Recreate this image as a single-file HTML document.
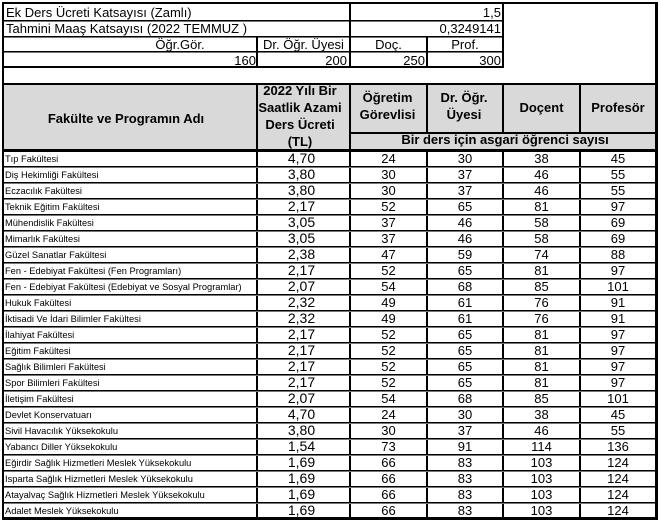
<!DOCTYPE html>
<html><head><meta charset="utf-8">
<style>
*{margin:0;padding:0;box-sizing:border-box}
html,body{width:661px;height:526px;background:#fff;overflow:hidden}
body{position:relative;font-family:"Liberation Sans",Arial,sans-serif;color:#000}
.a{position:absolute;white-space:nowrap;line-height:1;font-size:13px}
.b{font-weight:bold;line-height:17px;text-align:center;white-space:nowrap;position:absolute;font-size:13px}
.l{position:absolute;background:#000}
.h{position:absolute;left:4px;width:651px;height:2px;background:linear-gradient(#000 50%,#777 50%)}
.r{position:absolute;left:0;width:661px;height:16px}
.n{position:absolute;left:5px;top:5px;font-size:9.3px;line-height:1;white-space:nowrap}
.v{position:absolute;left:258px;width:87px;text-align:center;top:1px;font-size:14px;line-height:1}
.c{position:absolute;top:2px;font-size:13px;line-height:1;text-align:center}
.c1{left:351px;width:75px}.c2{left:428px;width:74px}.c3{left:504px;width:75px}.c4{left:581px;width:74px}
</style></head><body>

<!-- header gray -->
<div style="position:absolute;left:4px;top:85px;width:651px;height:64px;background:#d9d9d9"></div>

<!-- outer border -->
<div class="l" style="left:2px;top:2px;width:656px;height:2px"></div>
<div class="l" style="left:2px;top:2px;width:2px;height:517px"></div>
<div class="l" style="left:655px;top:2px;width:3px;height:517px"></div>
<div class="l" style="left:2px;top:517px;width:656px;height:3px"></div>

<!-- top section lines -->
<div class="h" style="top:20px;width:500px"></div>
<div class="h" style="top:36px;width:500px"></div>
<div class="h" style="top:51px;width:500px"></div>
<div class="l" style="left:4px;top:66px;width:500px;height:2px"></div>
<div class="l" style="left:349px;top:2px;width:2px;height:65px"></div>
<div class="l" style="left:502px;top:2px;width:2px;height:65px"></div>
<div class="l" style="left:256px;top:36px;width:2px;height:31px"></div>
<div class="l" style="left:426px;top:36px;width:2px;height:31px"></div>

<!-- header lines -->
<div class="l" style="left:4px;top:83px;width:651px;height:2px"></div>
<div class="l" style="left:349px;top:132px;width:306px;height:2px"></div>
<div class="l" style="left:4px;top:149px;width:651px;height:3px"></div>

<!-- verticals -->
<div class="l" style="left:256px;top:83px;width:2px;height:435px"></div>
<div class="l" style="left:349px;top:83px;width:2px;height:435px"></div>
<div class="l" style="left:426px;top:83px;width:2px;height:50px"></div>
<div class="l" style="left:502px;top:83px;width:2px;height:50px"></div>
<div class="l" style="left:579px;top:83px;width:2px;height:50px"></div>
<div class="l" style="left:426px;top:149px;width:2px;height:369px"></div>
<div class="l" style="left:502px;top:149px;width:2px;height:369px"></div>
<div class="l" style="left:579px;top:149px;width:2px;height:369px"></div>

<!-- top texts -->
<div class="a" style="left:6px;top:6px">Ek Ders Ücreti Katsayısı (Zamlı)</div>
<div class="a" style="left:351px;top:6px;width:150px;text-align:right">1,5</div>
<div class="a" style="left:6px;top:22px">Tahmini Maaş Katsayısı (2022 TEMMUZ )</div>
<div class="a" style="left:351px;top:22px;width:150px;text-align:right">0,3249141</div>
<div class="a" style="left:130px;top:38px;width:100px;text-align:center">Öğr.Gör.</div>
<div class="a" style="left:258px;top:38px;width:91px;text-align:center">Dr. Öğr. Üyesi</div>
<div class="a" style="left:351px;top:38px;width:75px;text-align:center">Doç.</div>
<div class="a" style="left:428px;top:38px;width:74px;text-align:center">Prof.</div>
<div class="a" style="left:4px;top:54px;width:252px;text-align:right">160</div>
<div class="a" style="left:258px;top:54px;width:89px;text-align:right">200</div>
<div class="a" style="left:351px;top:54px;width:74px;text-align:right">250</div>
<div class="a" style="left:428px;top:54px;width:73px;text-align:right">300</div>

<!-- header texts -->
<div class="b" style="left:4px;top:110px;width:244px">Fakülte ve Programın Adı</div>
<div class="b" style="left:254px;top:82px;width:92px">2022 Yılı Bir<br>Saatlik Azami<br>Ders Ücreti<br>(TL)</div>
<div class="b" style="left:351px;top:89px;width:73px">Öğretim<br>Görevlisi</div>
<div class="b" style="left:428px;top:89px;width:72px">Dr. Öğr.<br>Üyesi</div>
<div class="b" style="left:504px;top:99px;width:75px">Doçent</div>
<div class="b" style="left:581px;top:99px;width:74px">Profesör</div>
<div class="b" style="left:351px;top:131px;width:308px">Bir ders için asgari öğrenci sayısı</div>

<!-- data rows -->
<div class="r" style="top:150px"><div class="n">Tıp Fakültesi</div><div class="v">4,70</div><div class="c c1">24</div><div class="c c2">30</div><div class="c c3">38</div><div class="c c4">45</div><div class="h" style="top:16px"></div></div>
<div class="r" style="top:166px"><div class="n">Diş Hekimliği Fakültesi</div><div class="v">3,80</div><div class="c c1">30</div><div class="c c2">37</div><div class="c c3">46</div><div class="c c4">55</div><div class="h" style="top:16px"></div></div>
<div class="r" style="top:182px"><div class="n">Eczacılık Fakültesi</div><div class="v">3,80</div><div class="c c1">30</div><div class="c c2">37</div><div class="c c3">46</div><div class="c c4">55</div><div class="h" style="top:16px"></div></div>
<div class="r" style="top:198px"><div class="n">Teknik Eğitim Fakültesi</div><div class="v">2,17</div><div class="c c1">52</div><div class="c c2">65</div><div class="c c3">81</div><div class="c c4">97</div><div class="h" style="top:16px"></div></div>
<div class="r" style="top:214px"><div class="n">Mühendislik Fakültesi</div><div class="v">3,05</div><div class="c c1">37</div><div class="c c2">46</div><div class="c c3">58</div><div class="c c4">69</div><div class="h" style="top:16px"></div></div>
<div class="r" style="top:230px"><div class="n">Mimarlık Fakültesi</div><div class="v">3,05</div><div class="c c1">37</div><div class="c c2">46</div><div class="c c3">58</div><div class="c c4">69</div><div class="h" style="top:16px"></div></div>
<div class="r" style="top:246px"><div class="n">Güzel Sanatlar Fakültesi</div><div class="v">2,38</div><div class="c c1">47</div><div class="c c2">59</div><div class="c c3">74</div><div class="c c4">88</div><div class="h" style="top:16px"></div></div>
<div class="r" style="top:262px"><div class="n">Fen - Edebiyat Fakültesi (Fen Programları)</div><div class="v">2,17</div><div class="c c1">52</div><div class="c c2">65</div><div class="c c3">81</div><div class="c c4">97</div><div class="h" style="top:16px"></div></div>
<div class="r" style="top:278px"><div class="n">Fen - Edebiyat Fakültesi (Edebiyat ve Sosyal Programlar)</div><div class="v">2,07</div><div class="c c1">54</div><div class="c c2">68</div><div class="c c3">85</div><div class="c c4">101</div><div class="h" style="top:16px"></div></div>
<div class="r" style="top:294px"><div class="n">Hukuk Fakültesi</div><div class="v">2,32</div><div class="c c1">49</div><div class="c c2">61</div><div class="c c3">76</div><div class="c c4">91</div><div class="h" style="top:16px"></div></div>
<div class="r" style="top:310px"><div class="n">İktisadi Ve İdari Bilimler Fakültesi</div><div class="v">2,32</div><div class="c c1">49</div><div class="c c2">61</div><div class="c c3">76</div><div class="c c4">91</div><div class="h" style="top:16px"></div></div>
<div class="r" style="top:326px"><div class="n">İlahiyat Fakültesi</div><div class="v">2,17</div><div class="c c1">52</div><div class="c c2">65</div><div class="c c3">81</div><div class="c c4">97</div><div class="h" style="top:16px"></div></div>
<div class="r" style="top:342px"><div class="n">Eğitim Fakültesi</div><div class="v">2,17</div><div class="c c1">52</div><div class="c c2">65</div><div class="c c3">81</div><div class="c c4">97</div><div class="h" style="top:16px"></div></div>
<div class="r" style="top:358px"><div class="n">Sağlık Bilimleri Fakültesi</div><div class="v">2,17</div><div class="c c1">52</div><div class="c c2">65</div><div class="c c3">81</div><div class="c c4">97</div><div class="h" style="top:16px"></div></div>
<div class="r" style="top:374px"><div class="n">Spor Bilimleri Fakültesi</div><div class="v">2,17</div><div class="c c1">52</div><div class="c c2">65</div><div class="c c3">81</div><div class="c c4">97</div><div class="h" style="top:16px"></div></div>
<div class="r" style="top:390px"><div class="n">İletişim Fakültesi</div><div class="v">2,07</div><div class="c c1">54</div><div class="c c2">68</div><div class="c c3">85</div><div class="c c4">101</div><div class="h" style="top:16px"></div></div>
<div class="r" style="top:406px"><div class="n">Devlet Konservatuarı</div><div class="v">4,70</div><div class="c c1">24</div><div class="c c2">30</div><div class="c c3">38</div><div class="c c4">45</div><div class="h" style="top:16px"></div></div>
<div class="r" style="top:422px"><div class="n">Sivil Havacılık Yüksekokulu</div><div class="v">3,80</div><div class="c c1">30</div><div class="c c2">37</div><div class="c c3">46</div><div class="c c4">55</div><div class="h" style="top:16px"></div></div>
<div class="r" style="top:438px"><div class="n">Yabancı Diller Yüksekokulu</div><div class="v">1,54</div><div class="c c1">73</div><div class="c c2">91</div><div class="c c3">114</div><div class="c c4">136</div><div class="h" style="top:16px"></div></div>
<div class="r" style="top:454px"><div class="n">Eğirdir Sağlık Hizmetleri Meslek Yüksekokulu</div><div class="v">1,69</div><div class="c c1">66</div><div class="c c2">83</div><div class="c c3">103</div><div class="c c4">124</div><div class="h" style="top:16px"></div></div>
<div class="r" style="top:470px"><div class="n">Isparta Sağlık Hizmetleri Meslek Yüksekokulu</div><div class="v">1,69</div><div class="c c1">66</div><div class="c c2">83</div><div class="c c3">103</div><div class="c c4">124</div><div class="h" style="top:16px"></div></div>
<div class="r" style="top:486px"><div class="n">Atayalvaç Sağlık Hizmetleri Meslek Yüksekokulu</div><div class="v">1,69</div><div class="c c1">66</div><div class="c c2">83</div><div class="c c3">103</div><div class="c c4">124</div><div class="h" style="top:16px"></div></div>
<div class="r" style="top:502px"><div class="n">Adalet Meslek Yüksekokulu</div><div class="v">1,69</div><div class="c c1">66</div><div class="c c2">83</div><div class="c c3">103</div><div class="c c4">124</div></div>

</body></html>
